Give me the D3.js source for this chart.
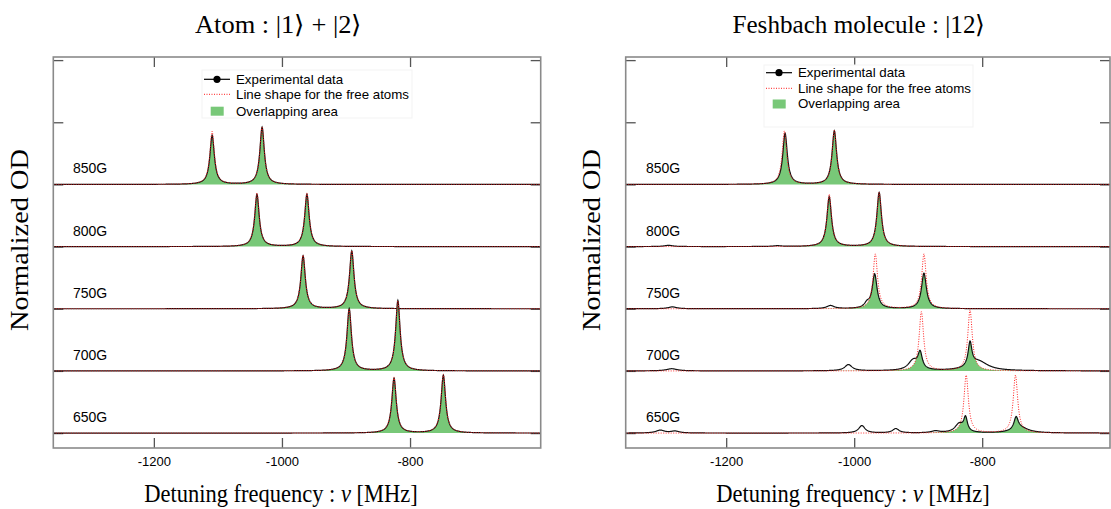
<!DOCTYPE html>
<html><head><meta charset="utf-8">
<script src="https://cdn.jsdelivr.net/npm/d3@7"></script>
<style>body{margin:0;background:#fff;} svg{display:block}</style>
</head><body>
<svg id="chart" width="1111" height="509"></svg>
<script>
// ---------------- data ----------------
const fields = ["850G", "800G", "750G", "700G", "650G"];
const xTicks = [-1200, -1000, -800];
const yTicks = [0, 1, 2, 3, 4, 5, 6];

// free-atom resonance centres (MHz) for each field
const atomCenter1 = [-1109, -1039, -967, -895, -825];
const atomCenter2 = [-1031, -961, -891, -819, -748];
const atomWidth = [4.2, 4.2, 4.2, 4.2, 4.2];          // HWHM (MHz)

// left panel: experimental (atoms) peak heights
const atomDataHeight1 = [0.79, 0.84, 0.85, 1.00, 0.88];
const atomDataHeight2 = [0.92, 0.84, 0.93, 1.13, 0.93];
// left panel: free-atom line shape heights
const atomFitHeight1 = [0.85, 0.86, 0.86, 0.99, 0.90];
const atomFitHeight2 = [0.92, 0.86, 0.93, 1.12, 0.94];

// right panel: free-atom line shape heights
const molFitHeight1 = [0.86, 0.84, 0.88, 0.95, 0.93];
const molFitHeight2 = [0.87, 0.87, 0.88, 0.98, 0.93];

// right panel: experimental (Feshbach molecule) spectral components
const molPeakField  = [0, 0,   1, 1, 1, 1,   2, 2, 2, 2, 2,   3, 3, 3, 3, 3, 3,   4, 4, 4, 4, 4, 4, 4, 4, 4];
const molPeakCenter = [-1108, -1031,  -1039, -961, -1290, -1120,  -968, -980, -891, -1037, -1284,
                       -897, -908, -819, -806, -1009, -1285,
                       -826, -836, -747, -740, -988, -935, -1303, -1280, -873];
const molPeakHeight = [0.82, 0.86,  0.80, 0.87, 0.02, 0.012,  0.55, 0.07, 0.57, 0.05, 0.03,
                       0.26, 0.16, 0.38, 0.15, 0.10, 0.035,
                       0.22, 0.14, 0.20, 0.08, 0.12, 0.07, 0.045, 0.03, 0.03];
const molPeakWidth  = [4.3, 4.3,  4.3, 4.3, 8, 8,  4.5, 5, 4.6, 7, 8,
                       4, 9, 3.5, 18, 7, 10,
                       3.5, 8, 4, 15, 6, 6, 8, 8, 8];

// ---------------- helpers ----------------
const lor = (x, c, h, w) => h / (1 + ((x - c) / w) ** 2);

function atomComps(heights1, heights2, i) {
  return [
    {c: atomCenter1[i], h: heights1[i], w: atomWidth[i]},
    {c: atomCenter2[i], h: heights2[i], w: atomWidth[i]}
  ];
}
function molComps(i) {
  const out = [];
  molPeakField.forEach((f, k) => {
    if (f === i) out.push({c: molPeakCenter[k], h: molPeakHeight[k], w: molPeakWidth[k]});
  });
  return out;
}
const evalComps = (comps, x) => comps.reduce((s, p) => s + lor(x, p.c, p.h, p.w), 0);

// ---------------- layout ----------------
const svg = d3.select("#chart");
const GREEN = "#78c878";
const SERIF = "'Liberation Serif', 'Times New Roman', serif";
const SANS = "'Liberation Sans', Arial, sans-serif";

const panels = [
  {
    left: 53.3, right: 540.7, domain: [-1357, -596],
    title: "Atom : |1\u27E9 + |2\u27E9", titleX: 278.5, titleLen: 167,
    xlabX: 281, ylabX: 28,
    data: i => atomComps(atomDataHeight1, atomDataHeight2, i),
    fit: i => atomComps(atomFitHeight1, atomFitHeight2, i),
    legend: {x0: 202, y0: 70, w: 210, h: 48, sx: 204, sx2: 230, tx: 236, rows: [79.3, 94.3, 111.2], sw: [210.7, 106.7]},
    labelX: 73
  },
  {
    left: 625.7, right: 1110, domain: [-1357, -600.3],
    title: "Feshbach molecule : |12\u27E9", titleX: 859, titleLen: 253,
    xlabX: 853, ylabX: 600,
    data: i => molComps(i),
    fit: i => atomComps(molFitHeight1, molFitHeight2, i),
    legend: {x0: 764, y0: 65, w: 209, h: 62, sx: 766, sx2: 792, tx: 798, rows: [72.7, 88.3, 103.3], sw: [772.7, 99.5]},
    labelX: 646
  }
];

const TOP = 57, BOTTOM = 448;

panels.forEach(P => {
  const g = svg.append("g");
  const x = d3.scaleLinear().domain(P.domain).range([P.left, P.right]);
  const y = d3.scaleLinear().domain([-0.24, 6.05]).range([BOTTOM, TOP]);
  const xs = d3.range(P.domain[0], P.domain[1] + 0.01, 0.5);

  // axes (ticks inward)
  const axStyle = sel => {
    sel.select(".domain").remove();
    sel.selectAll(".tick line").attr("stroke", "#555").attr("stroke-width", 1.3);
    sel.selectAll(".tick text").attr("font-family", SANS)
      .attr("font-size", 13).attr("fill", "#000");
  };
  g.append("g").attr("transform", `translate(0,${BOTTOM})`)
    .call(d3.axisBottom(x).tickValues(xTicks).tickSize(-10).tickPadding(9).tickFormat(d => String(d)))
    .call(axStyle);
  g.append("g").attr("transform", `translate(0,${TOP})`)
    .call(d3.axisTop(x).tickValues(xTicks).tickSize(-10).tickFormat("")).call(axStyle);
  g.append("g").attr("transform", `translate(${P.left},0)`)
    .call(d3.axisLeft(y).tickValues(yTicks).tickSize(-10).tickFormat("")).call(axStyle);
  g.append("g").attr("transform", `translate(${P.right},0)`)
    .call(d3.axisRight(y).tickValues(yTicks).tickSize(-10).tickFormat("")).call(axStyle);

  // traces
  fields.forEach((f, i) => {
    const off = 4 - i;
    const dc = P.data(i), fc = P.fit(i);
    const pts = xs.map(v => ({v, d: evalComps(dc, v), r: evalComps(fc, v)}));

    const area = d3.area().x(p => x(p.v)).y0(y(off)).y1(p => y(off + Math.min(p.d, p.r)));
    g.append("path").datum(pts).attr("d", area).attr("fill", GREEN);

    const lineD = d3.line().x(p => x(p.v)).y(p => y(off + p.d));
    g.append("path").datum(pts).attr("d", lineD)
      .attr("fill", "none").attr("stroke", "#111").attr("stroke-width", 1.2);

    const lineR = d3.line().x(p => x(p.v)).y(p => y(off + p.r));
    g.append("path").datum(pts).attr("d", lineR)
      .attr("fill", "none").attr("stroke", "#ff1a1a").attr("stroke-width", 1)
      .attr("stroke-dasharray", "1,1.5");

    g.append("text").attr("x", P.labelX).attr("y", y(off) - 11)
      .attr("font-family", SANS).attr("font-size", 14)
      .text(f);
  });

  // frame
  g.append("rect").attr("x", P.left).attr("y", TOP)
    .attr("width", P.right - P.left).attr("height", BOTTOM - TOP)
    .attr("fill", "none").attr("stroke", "#8a8a8a").attr("stroke-width", 1.6);

  // legend
  const L = P.legend;
  const lg = g.append("g");
  lg.append("rect").attr("x", L.x0).attr("y", L.y0).attr("width", L.w).attr("height", L.h)
    .attr("fill", "#fff").attr("stroke", "#f3f3f3");
  lg.append("line").attr("x1", L.sx).attr("x2", L.sx2).attr("y1", L.rows[0]).attr("y2", L.rows[0])
    .attr("stroke", "#000").attr("stroke-width", 1.2);
  lg.append("circle").attr("cx", (L.sx + L.sx2) / 2).attr("cy", L.rows[0]).attr("r", 3.6).attr("fill", "#000");
  lg.append("line").attr("x1", L.sx).attr("x2", L.sx2).attr("y1", L.rows[1]).attr("y2", L.rows[1])
    .attr("stroke", "#ff1a1a").attr("stroke-width", 1).attr("stroke-dasharray", "1,1.5");
  lg.append("rect").attr("x", L.sw[0]).attr("y", L.sw[1]).attr("width", 13).attr("height", 9).attr("fill", GREEN);
  ["Experimental data", "Line shape for the free atoms", "Overlapping area"].forEach((t, k) => {
    lg.append("text").attr("x", L.tx).attr("y", L.rows[k] + 4.7)
      .attr("font-family", SANS).attr("font-size", 13.3)
      .text(t);
  });

  // titles & axis labels
  svg.append("text").attr("x", P.titleX).attr("y", 33).attr("text-anchor", "middle")
    .attr("font-family", SERIF).attr("font-size", 25)
    .attr("textLength", P.titleLen).attr("lengthAdjust", "spacingAndGlyphs")
    .text(P.title);

  const xl = svg.append("g").attr("transform", `translate(${P.xlabX},502) scale(0.9,1)`)
    .append("text").attr("x", 0).attr("y", 0).attr("text-anchor", "middle")
    .attr("font-family", SERIF).attr("font-size", 25);
  xl.append("tspan").text("Detuning frequency : ");
  xl.append("tspan").attr("font-style", "italic").text("\u03BD");
  xl.append("tspan").text(" [MHz]");

  svg.append("text").attr("transform", `translate(${P.ylabX},240) rotate(-90)`)
    .attr("text-anchor", "middle")
    .attr("font-family", SERIF).attr("font-size", 25)
    .attr("textLength", 182).attr("lengthAdjust", "spacingAndGlyphs")
    .text("Normalized OD");
});
</script>
</body></html>
